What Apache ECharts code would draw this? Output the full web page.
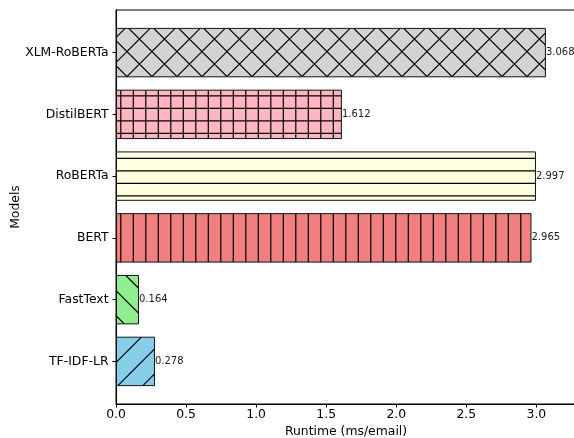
<!DOCTYPE html>
<html>
<head>
<meta charset="utf-8">
<script src="https://cdn.jsdelivr.net/npm/echarts@6/dist/echarts.min.js"></script>
<style>
html,body{margin:0;padding:0;background:#fff;}
#chart{width:574px;height:438px;}
</style>
</head>
<body>
<div id="chart"></div>
<script>
// Data (bottom to top)
const categories = ['TF-IDF-LR', 'FastText', 'BERT', 'RoBERTa', 'DistilBERT', 'XLM-RoBERTa'];
const runtimes = [0.278, 0.164, 2.965, 2.997, 1.612, 3.068];
const barColors = ['#87CEEB', '#90EE90', '#F08080', '#FFFFE0', '#FFB6C1', '#D3D3D3'];
const hatches = ['/', '\\', '|', '-', '+', 'x'];
const xLabel = 'Runtime (ms/email)';
const yLabel = 'Models';
const xMin = 0;
const xMax = 3.068 * 1.07;
const xInterval = 0.5;

function makePattern(bg, hatch) {
  const S = 25;
  const c = document.createElement('canvas');
  c.width = S; c.height = S;
  const g = c.getContext('2d');
  g.fillStyle = bg;
  g.fillRect(0, 0, S, S);
  g.strokeStyle = '#000';
  g.lineWidth = 1.2;
  g.beginPath();
  const ortho = [8.3, 20.8];
  if (hatch === '-' || hatch === '+') {
    ortho.forEach(y => { g.moveTo(-1, y); g.lineTo(S + 1, y); });
  }
  if (hatch === '|' || hatch === '+') {
    ortho.forEach(x => { g.moveTo(x, -1); g.lineTo(x, S + 1); });
  }
  if (hatch === '/' || hatch === 'x') {
    [-22, 3.5, 28.5, 53.5].forEach(cc => { g.moveTo(cc + 2, -2); g.lineTo(cc - 27, 27); });
  }
  if (hatch === '\\' || hatch === 'x') {
    [-25.4, -0.4, 24.6].forEach(cc => { g.moveTo(-2, cc - 2); g.lineTo(27, cc + 27); });
  }
  g.stroke();
  return c;
}

const chart = echarts.init(document.getElementById('chart'), null, {renderer: 'canvas'});
const FONT = 'DejaVu Sans';
const FS = 12.4;

const barData = runtimes.map((v, i) => ({
  value: v,
  itemStyle: {
    color: {image: makePattern(barColors[i], hatches[i]), repeat: 'repeat'},
    borderColor: '#111',
    borderWidth: 1
  }
}));

const option = {
  animation: false,
  backgroundColor: '#fff',
  grid: [
    {left: 116, top: 10, width: 460, height: 394, outerBoundsMode: 'none', containLabel: false,
     show: true, borderColor: '#000', borderWidth: 1, backgroundColor: 'transparent'},
    {left: 116, top: 21.73, width: 460, height: 370.54, outerBoundsMode: 'none', containLabel: false}
  ],
  xAxis: [
    {
      gridIndex: 0, type: 'value', min: xMin, max: xMax, interval: xInterval,
      name: xLabel, nameLocation: 'middle', nameGap: 18,
      nameTextStyle: {fontFamily: FONT, fontSize: FS, color: '#000'},
      axisLine: {show: true, lineStyle: {color: '#000', width: 1}},
      axisTick: {show: true, length: 3.5, lineStyle: {color: '#000'}},
      axisLabel: {show: true, showMaxLabel: false, margin: 4.5, fontFamily: FONT, fontSize: FS, color: '#000',
        formatter: v => v.toFixed(1)},
      splitLine: {show: false}
    },
    {gridIndex: 1, type: 'value', min: xMin, max: xMax, show: false}
  ],
  yAxis: [
    {
      gridIndex: 0, type: 'value', min: 0, max: 1,
      name: yLabel, nameLocation: 'middle', nameGap: 94,
      nameTextStyle: {fontFamily: FONT, fontSize: FS, color: '#000'},
      axisLine: {show: true, lineStyle: {color: '#000', width: 1}},
      axisTick: {show: false}, axisLabel: {show: false}, splitLine: {show: false}
    },
    {
      gridIndex: 1, type: 'category', data: categories,
      axisLine: {show: false},
      axisTick: {show: true, alignWithLabel: true, length: 3.5, lineStyle: {color: '#000'}},
      axisLabel: {margin: 7.5, fontFamily: FONT, fontSize: FS, color: '#000'},
      splitLine: {show: false}
    }
  ],
  series: [{
    type: 'bar',
    xAxisIndex: 1, yAxisIndex: 1,
    barWidth: '80%',
    data: barData,
    label: {
      show: true, position: 'right', distance: 0,
      fontFamily: FONT, fontSize: 10, color: '#1a1a1a',
      formatter: p => p.value.toFixed(3)
    }
  }]
};
chart.setOption(option);
</script>
</body>
</html>
